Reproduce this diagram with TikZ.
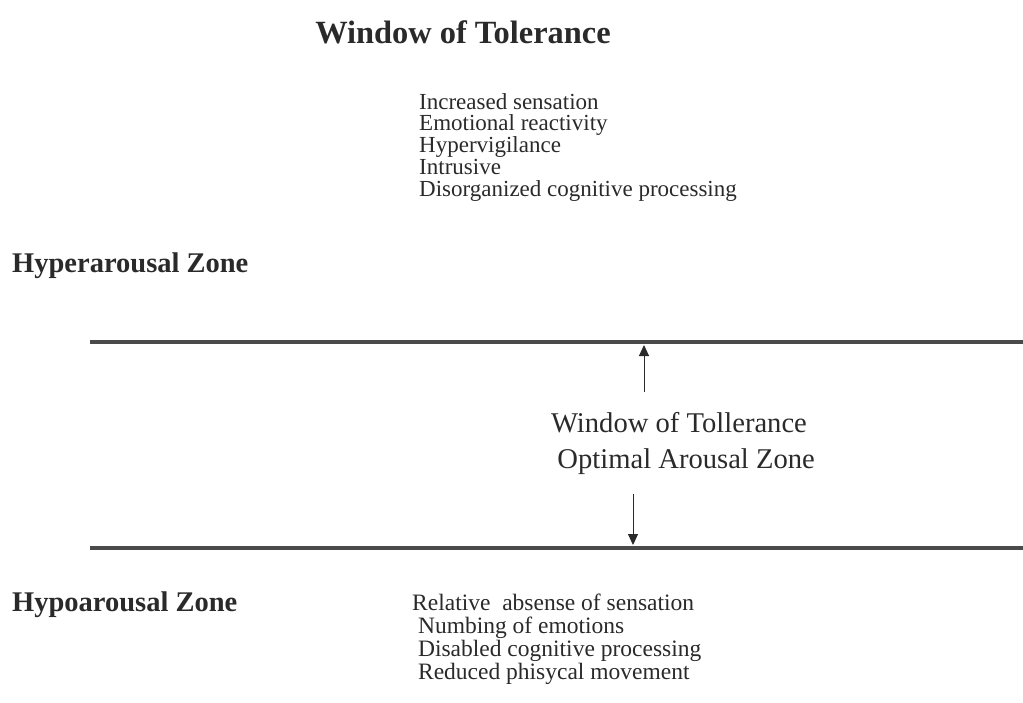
\documentclass[tikz,border=0pt]{standalone}
\usepackage{fontspec}
\setmainfont{Liberation Serif}
\usetikzlibrary{arrows.meta}
\definecolor{ink}{HTML}{2A2A2A}
\definecolor{rule}{HTML}{4A4A4A}
\newcommand\mytight{\setlength{\lineskiplimit}{-100pt}}
\tikzset{
  title/.style={font=\fontsize{32.4}{34}\selectfont\bfseries, text=ink, inner sep=0pt},
  zone/.style={font=\fontsize{28.5}{30}\selectfont\bfseries, text=ink, inner sep=0pt, anchor=west},
  list/.style={font=\fontsize{23}{21.8}\selectfont\mytight, text=ink, inner sep=0pt, align=left, anchor=north west},
  listb/.style={font=\fontsize{23.5}{23}\selectfont\mytight, text=ink, inner sep=0pt, align=left, anchor=north west},
  mid/.style={font=\fontsize{28.6}{36}\selectfont, text=ink, inner sep=0pt, align=center},
  bar/.style={draw=rule, line width=4pt},
  arr/.style={draw=ink, line width=1pt, -{Triangle[length=11pt,width=10pt]}}
}
\begin{document}
\begin{tikzpicture}[x=1pt,y=-1pt]
\useasboundingbox (0,0) rectangle (1023,702);
\node[title] (t) at (463,32) {Window of Tolerance};
\node[list] (hyper) at (419,93) {Increased sensation\\Emotional reactivity\\Hypervigilance\\Intrusive\\Disorganized cognitive processing};
\node[zone] (hz) at (12,266) {Hyperarousal Zone};
\coordinate (l1a) at (90,342);
\coordinate (l1b) at (1023,342);
\draw[bar] (l1a) -- (l1b);
\coordinate (l2a) at (90,548);
\coordinate (l2b) at (1023,548);
\draw[bar] (l2a) -- (l2b);
\node[mid] (m) at (679,443) {Window of Tollerance\\\ \ Optimal Arousal Zone};
\coordinate (u0) at (644,392);
\coordinate (u1) at (644,345);
\draw[arr] (u0) -- (u1);
\coordinate (d0) at (633,494);
\coordinate (d1) at (633,545);
\draw[arr] (d0) -- (d1);
\node[zone] (lz) at (12,605) {Hypoarousal Zone};
\node[listb] (hypo) at (412,594) {Relative\ \ absense of sensation\\\ Numbing of emotions\\\ Disabled cognitive processing\\\ Reduced phisycal movement};
\end{tikzpicture}
\end{document}
